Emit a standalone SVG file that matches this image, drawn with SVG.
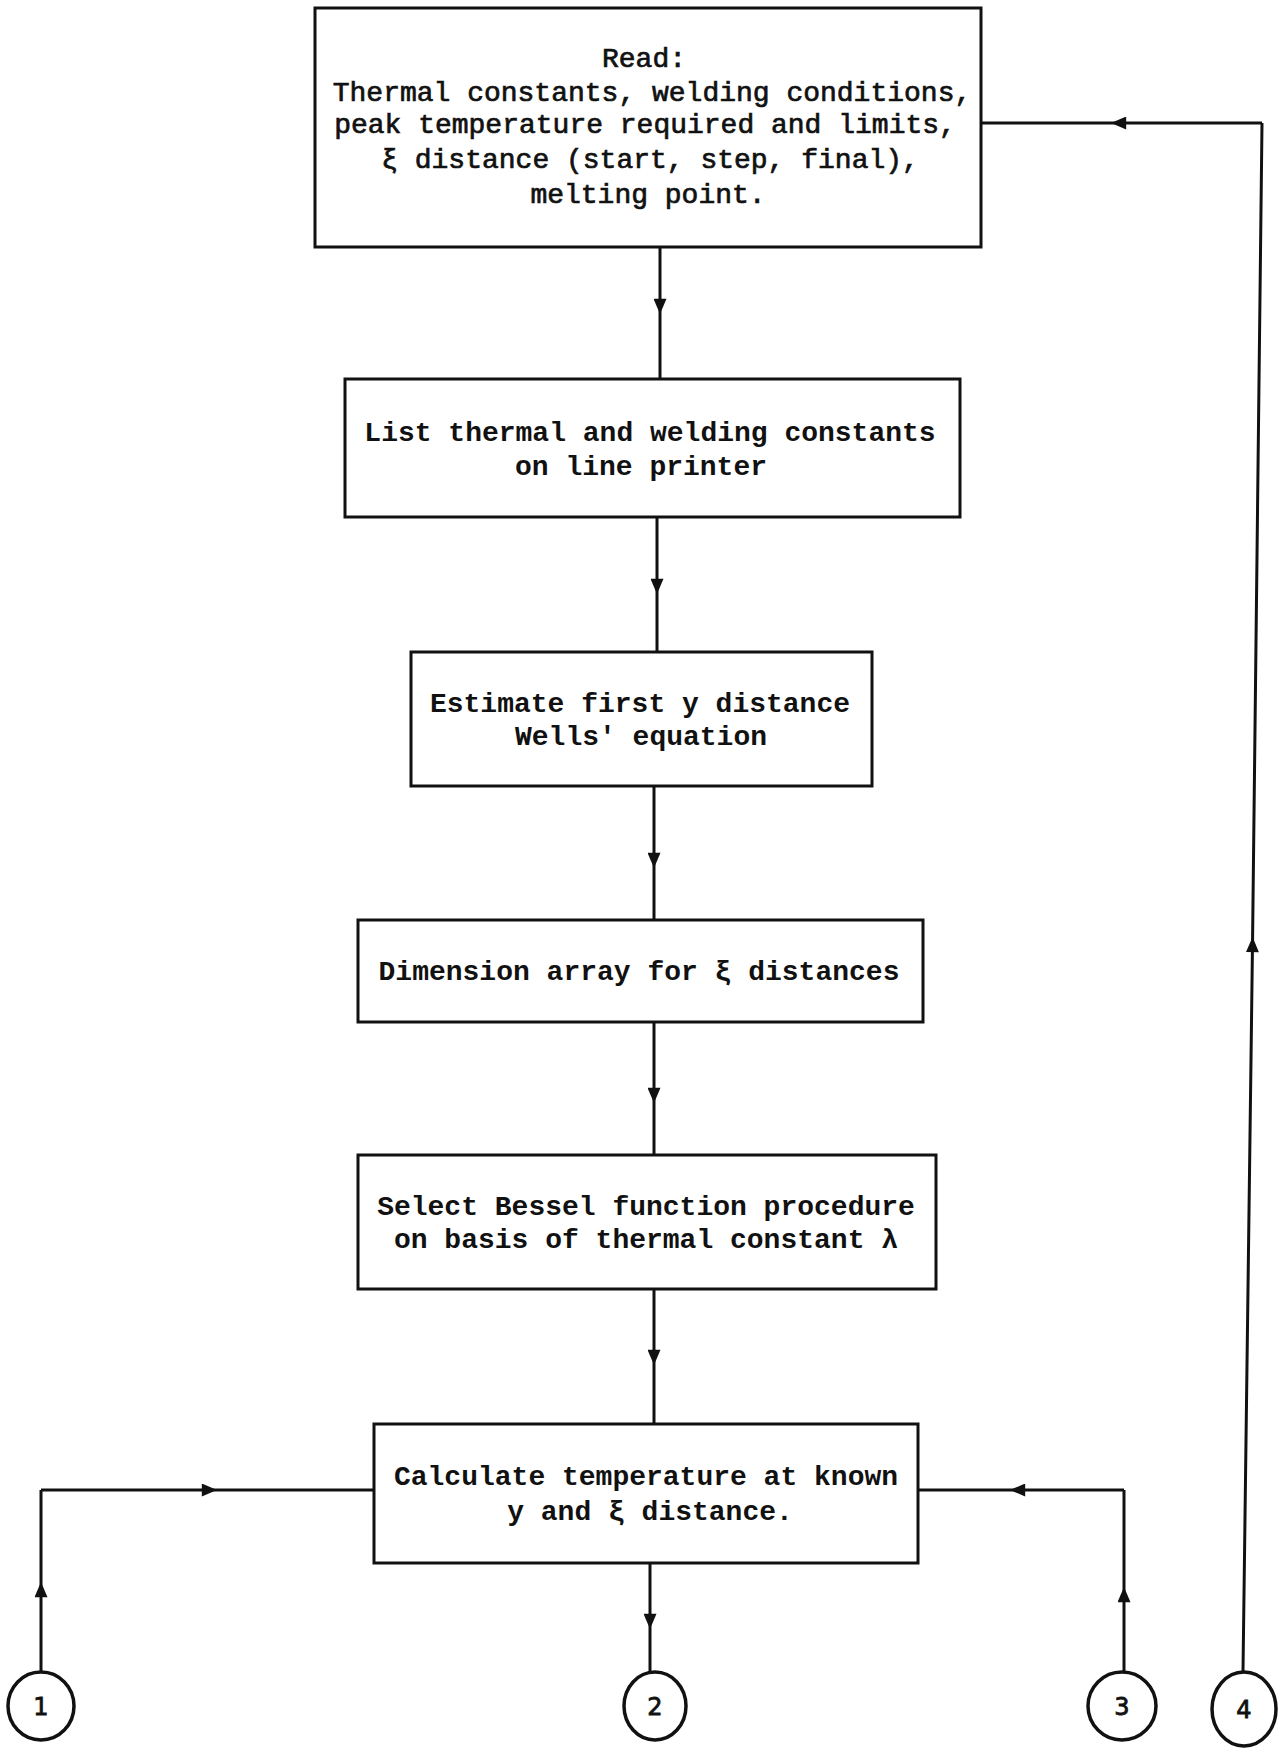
<svg xmlns="http://www.w3.org/2000/svg" width="1279" height="1753" viewBox="0 0 1279 1753">
<style>
.box{fill:#fff;stroke:#111;stroke-width:3}
.t{font-family:"Liberation Mono","Courier New",monospace;font-size:28px;font-weight:bold;fill:#111;text-anchor:middle}
.t1{font-weight:normal;stroke:#111;stroke-width:0.7}
.c{fill:#fff;stroke:#111;stroke-width:3.5}
.n{font-family:"DejaVu Sans","Liberation Sans",sans-serif;font-size:24px;fill:#111;stroke:#111;stroke-width:0.8;text-anchor:middle}
.ln{fill:none;stroke:#111;stroke-width:3;marker-mid:url(#arr)}
</style>
<defs>
<marker id="arr" viewBox="0 0 14 12" refX="14" refY="6" markerWidth="16" markerHeight="13" markerUnits="userSpaceOnUse" orient="auto">
<path d="M0,0 L14,6 L0,12 z" fill="#111"/>
</marker>
</defs>
<g id="connectors">
<path class="ln" d="M660,247 L660,314 L660,379"/>
<path class="ln" d="M657,517 L657,594 L657,652"/>
<path class="ln" d="M654,786 L654,868 L654,920"/>
<path class="ln" d="M654,1022 L654,1103 L654,1155"/>
<path class="ln" d="M654,1289 L654,1365 L654,1424"/>
<path class="ln" d="M41,1672 L41,1582 L41,1490"/>
<path class="ln" d="M41,1490 L217,1490 L374,1490"/>
<path class="ln" d="M650,1563 L650,1629 L650,1672"/>
<path class="ln" d="M1124,1672 L1124,1587 L1124,1490"/>
<path class="ln" d="M1124,1490 L1010,1490 L918,1490"/>
<path class="ln" d="M1243,1671 L1252.6,937 L1262,123"/>
<path class="ln" d="M1262,123 L1111,123 L981,123"/>
</g>
<g id="n1">
<rect class="box" x="315" y="8" width="666" height="239"/>
<text class="t t1" x="644" y="67">Read:</text>
<text class="t t1" x="652" y="101">Thermal constants, welding conditions,</text>
<text class="t t1" x="645" y="133">peak temperature required and limits,</text>
<text class="t t1" x="650" y="168">ξ distance (start, step, final),</text>
<text class="t t1" x="648" y="203">melting point.</text>
</g>
<g id="n2">
<rect class="box" x="345" y="379" width="615" height="138"/>
<text class="t" x="650" y="441">List thermal and welding constants</text>
<text class="t" x="641" y="475">on line printer</text>
</g>
<g id="n3">
<rect class="box" x="411" y="652" width="461" height="134"/>
<text class="t" x="640" y="712">Estimate first y distance</text>
<text class="t" x="641" y="745">Wells' equation</text>
</g>
<g id="n4">
<rect class="box" x="358" y="920" width="565" height="102"/>
<text class="t" x="639" y="980">Dimension array for ξ distances</text>
</g>
<g id="n5">
<rect class="box" x="358" y="1155" width="578" height="134"/>
<text class="t" x="646" y="1215">Select Bessel function procedure</text>
<text class="t" x="646" y="1248">on basis of thermal constant λ</text>
</g>
<g id="n6">
<rect class="box" x="374" y="1424" width="544" height="139"/>
<text class="t" x="646" y="1485">Calculate temperature at known</text>
<text class="t" x="650" y="1520">y and ξ distance.</text>
</g>
<g id="c1">
<ellipse class="c" cx="41" cy="1706" rx="33" ry="34"/>
<text class="n" x="41" y="1715">1</text>
</g>
<g id="c2">
<ellipse class="c" cx="655" cy="1706" rx="31" ry="34"/>
<text class="n" x="655" y="1715">2</text>
</g>
<g id="c3">
<ellipse class="c" cx="1122" cy="1706" rx="34" ry="34"/>
<text class="n" x="1122" y="1715">3</text>
</g>
<g id="c4">
<ellipse class="c" cx="1244" cy="1709" rx="32" ry="37"/>
<text class="n" x="1244" y="1718">4</text>
</g>
</svg>
